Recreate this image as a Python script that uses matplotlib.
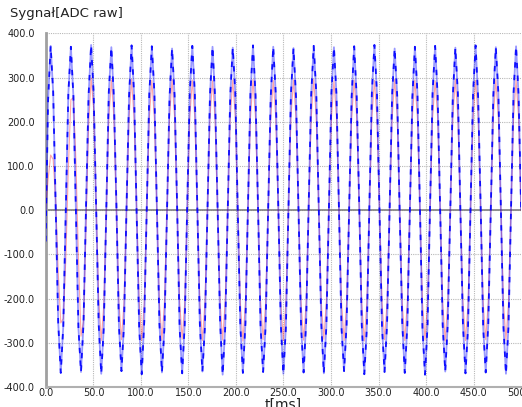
import numpy as np
import matplotlib.pyplot as plt

# próbki co 1/8 okresu (okres ~21.3 ms)
first_sample_ms = -0.425
sample_step_ms = 2.6625

# sygnał surowy z ADC (niebieski)
raw_signal = [
    -70, 250, 372, 268, 8, -255, -368, -262,
    5, 265, 370, 258, -6, -268, -366, -255,
    10, 260, 374, 265, 4, -258, -370, -266,
    -4, 268, 369, 255, 12, -262, -364, -259,
    6, 258, 373, 262, -8, -265, -371, -252,
    2, 263, 371, 268, 5, -256, -367, -264,
    -8, 255, 366, 259, 10, -268, -369, -258,
    12, 266, 372, 264, -2, -260, -365, -262,
    0, 262, 370, 256, 7, -254, -372, -267,
    -5, 259, 368, 266, -10, -263, -368, -256,
    8, 267, 373, 260, 3, -266, -366, -260,
    4, 256, 370, 263, 9, -259, -370, -265,
    -6, 264, 367, 257, -4, -262, -367, -254,
    10, 260, 372, 267, 6, -257, -369, -263,
    1, 265, 369, 261, -7, -267, -364, -258,
    -3, 257, 371, 255, 11, -260, -371, -266,
    7, 268, 374, 265, 0, -264, -366, -257,
    3, 261, 366, 260, -9, -255, -368, -262,
    -9, 255, 370, 266, 5, -268, -372, -261,
    11, 266, 372, 258, 2, -261, -365, -256,
    0, 259, 368, 263, -5, -258, -369, -267,
    6, 263, 373, 256, 8, -265, -367, -259,
    -2, 258, 369, 265, -3, -262, -370, -263,
    4, 264, 371, 259, 2,
]

# sygnał po filtrze (czerwony)
filtered_signal = [
    0, 70, 125, 115, 20, -140, -255, -245,
    -110, 95, 250, 255, 110, -110, -285, -250,
    -30, 190, 300, 230, 10, -200, -295, -215,
    0, 208, 295, 210, 2, -208, -293, -210,
    -2, 210, 296, 207, 0, -206, -295, -211,
    1, 207, 294, 209, -1, -209, -294, -208,
    0, 209, 296, 210, 1, -207, -292, -210,
    -1, 208, 295, 208, 0, -210, -295, -209,
    2, 210, 293, 207, -2, -208, -294, -207,
    0, 207, 295, 211, 1, -209, -296, -210,
    -1, 209, 296, 208, 0, -207, -293, -209,
    1, 208, 294, 210, 2, -210, -295, -208,
    0, 210, 295, 207, -1, -208, -294, -211,
    -2, 207, 296, 209, 0, -209, -292, -207,
    1, 209, 293, 210, 1, -207, -295, -210,
    0, 208, 295, 208, -2, -210, -296, -209,
    2, 210, 294, 207, 0, -208, -293, -208,
    -1, 207, 296, 211, 1, -209, -295, -210,
    0, 209, 295, 208, 0, -207, -294, -209,
    1, 208, 293, 210, -1, -210, -296, -207,
    -2, 210, 296, 207, 2, -208, -295, -211,
    0, 207, 294, 209, 0, -209, -293, -208,
    1, 209, 295, 210, -1, -207, -294, -210,
    0, 208, 295, 209, 0,
]

x_ticks = [0, 50, 100, 150, 200, 250, 300, 350, 400, 450, 500]
y_ticks = [-400, -300, -200, -100, 0, 100, 200, 300, 400]

t = first_sample_ms + sample_step_ms * np.arange(len(raw_signal))

fig = plt.figure(figsize=(5.22, 4.07), dpi=100)
ax = fig.add_axes([0.0881, 0.0491, 0.91, 0.8686])

ax.plot(t, filtered_signal, color='red', lw=0.8, alpha=0.35, zorder=3)
ax.plot(t, raw_signal, color='blue', lw=1.3, alpha=0.4, zorder=4)
ax.plot(t, raw_signal, color='blue', lw=1.3, alpha=0.9, dashes=(3, 4), zorder=5)

ax.axhline(0, color='#808080', lw=1.2, zorder=2)

ax.set_xlim(0, 500)
ax.set_ylim(-400, 400)
ax.set_xticks(x_ticks)
ax.set_yticks(y_ticks)
ax.set_xticklabels(['%.1f' % v for v in x_ticks])
ax.set_yticklabels(['%.1f' % v for v in y_ticks])
ax.tick_params(length=0, labelsize=7, labelcolor='#222222')
ax.tick_params(axis='x', pad=1)
ax.tick_params(axis='y', pad=8)

ax.grid(True, color='#b8b8b8', lw=0.8, linestyle=(0, (1, 1)), zorder=1)
ax.set_axisbelow(True)

ax.spines['top'].set_visible(False)
ax.spines['right'].set_visible(False)
ax.spines['left'].set_color('#a0a0a0')
ax.spines['left'].set_linewidth(2)
ax.spines['bottom'].set_color('#b0b0b0')
ax.spines['bottom'].set_linewidth(1.5)

fig.text(0.019, 0.966, 'Sygnał[ADC raw]', fontsize=9.5, va='center', ha='left', color='#222222')
fig.text(0.543, 0.022, 't[ms]', fontsize=10, va='top', ha='center', color='#222222')

fig.savefig('out.png', dpi=100)
